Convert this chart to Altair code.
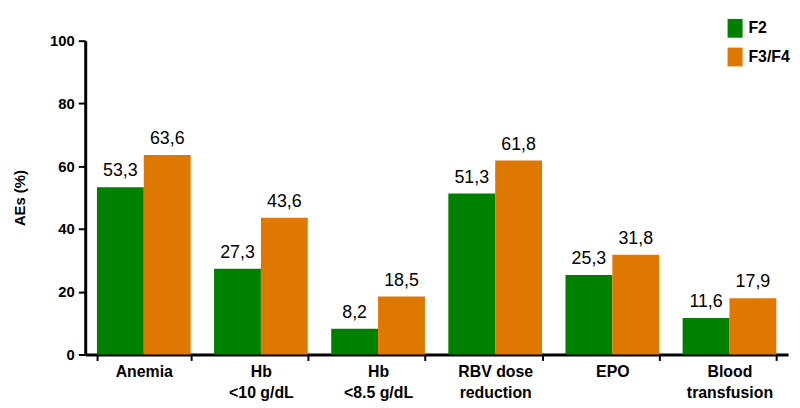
import altair as alt
import pandas as pd

categories = ["Anemia", "Hb|<10 g/dL", "Hb|<8.5 g/dL", "RBV dose|reduction", "EPO", "Blood|transfusion"]
groups = ["F2", "F3/F4"]
f2_values = [53.3, 27.3, 8.2, 51.3, 25.3, 11.6]
f34_values = [63.6, 43.6, 18.5, 61.8, 31.8, 17.9]
colors = ["#008000", "#DF7800"]

rows = []
for c, a, b in zip(categories, f2_values, f34_values):
    rows.append({"cat": c, "grp": groups[0], "val": a})
    rows.append({"cat": c, "grp": groups[1], "val": b})
df = pd.DataFrame(rows)

base = alt.Chart(df).encode(
    x=alt.X("cat:N", sort=categories, title=None,
            scale=alt.Scale(paddingInner=0.2, paddingOuter=0.1),
            axis=alt.Axis(labelExpr="split(datum.label, '|')", labelAngle=0,
                          labelFont="Liberation Sans", labelFontWeight="bold",
                          labelFontSize=16, labelColor="black", labelLineHeight=21,
                          labelPadding=3, tickBand="extent", tickSize=6, tickWidth=2,
                          tickColor="black", domainColor="black", domainWidth=3)),
    xOffset=alt.XOffset("grp:N", sort=groups),
)

bars = base.mark_bar().encode(
    y=alt.Y("val:Q", title="AEs (%)",
            scale=alt.Scale(domain=[0, 100], nice=False),
            axis=alt.Axis(values=[0, 20, 40, 60, 80, 100], grid=False,
                          labelFont="Liberation Sans", labelFontWeight="bold",
                          labelFontSize=15, labelColor="black", labelPadding=4,
                          tickSize=7, tickWidth=2, tickColor="black",
                          domainColor="black", domainWidth=3,
                          titleFont="Liberation Sans", titleFontWeight="bold",
                          titleFontSize=15, titleColor="black", titlePadding=22)),
    color=alt.Color("grp:N", sort=groups, title=None,
                    scale=alt.Scale(domain=groups, range=colors),
                    legend=alt.Legend(orient="none", legendX=647, legendY=-22,
                                      symbolType="M-0.8,-1H0.8V1H-0.8Z", symbolSize=361,
                                      symbolStrokeWidth=0, rowPadding=10,
                                      labelFont="Liberation Sans", labelFontWeight="bold",
                                      labelFontSize=16, labelColor="black",
                                      labelOffset=4)),
)

labels = base.mark_text(baseline="alphabetic", dy=-11, font="Liberation Sans",
                        fontSize=18, color="black").transform_calculate(
    lbl="replace(format(datum.val, '.1f'), '.', ',')"
).encode(
    y=alt.Y("val:Q", scale=alt.Scale(domain=[0, 100], nice=False)),
    text="lbl:N",
)

chart = alt.layer(bars, labels).properties(
    width=710, height=317,
    autosize=alt.AutoSizeParams(type="none"),
    padding={"left": 78, "top": 31, "right": 4, "bottom": 48},
).configure_view(stroke=None)

chart.save("out.html", embed_options={"renderer": "svg", "actions": False})
